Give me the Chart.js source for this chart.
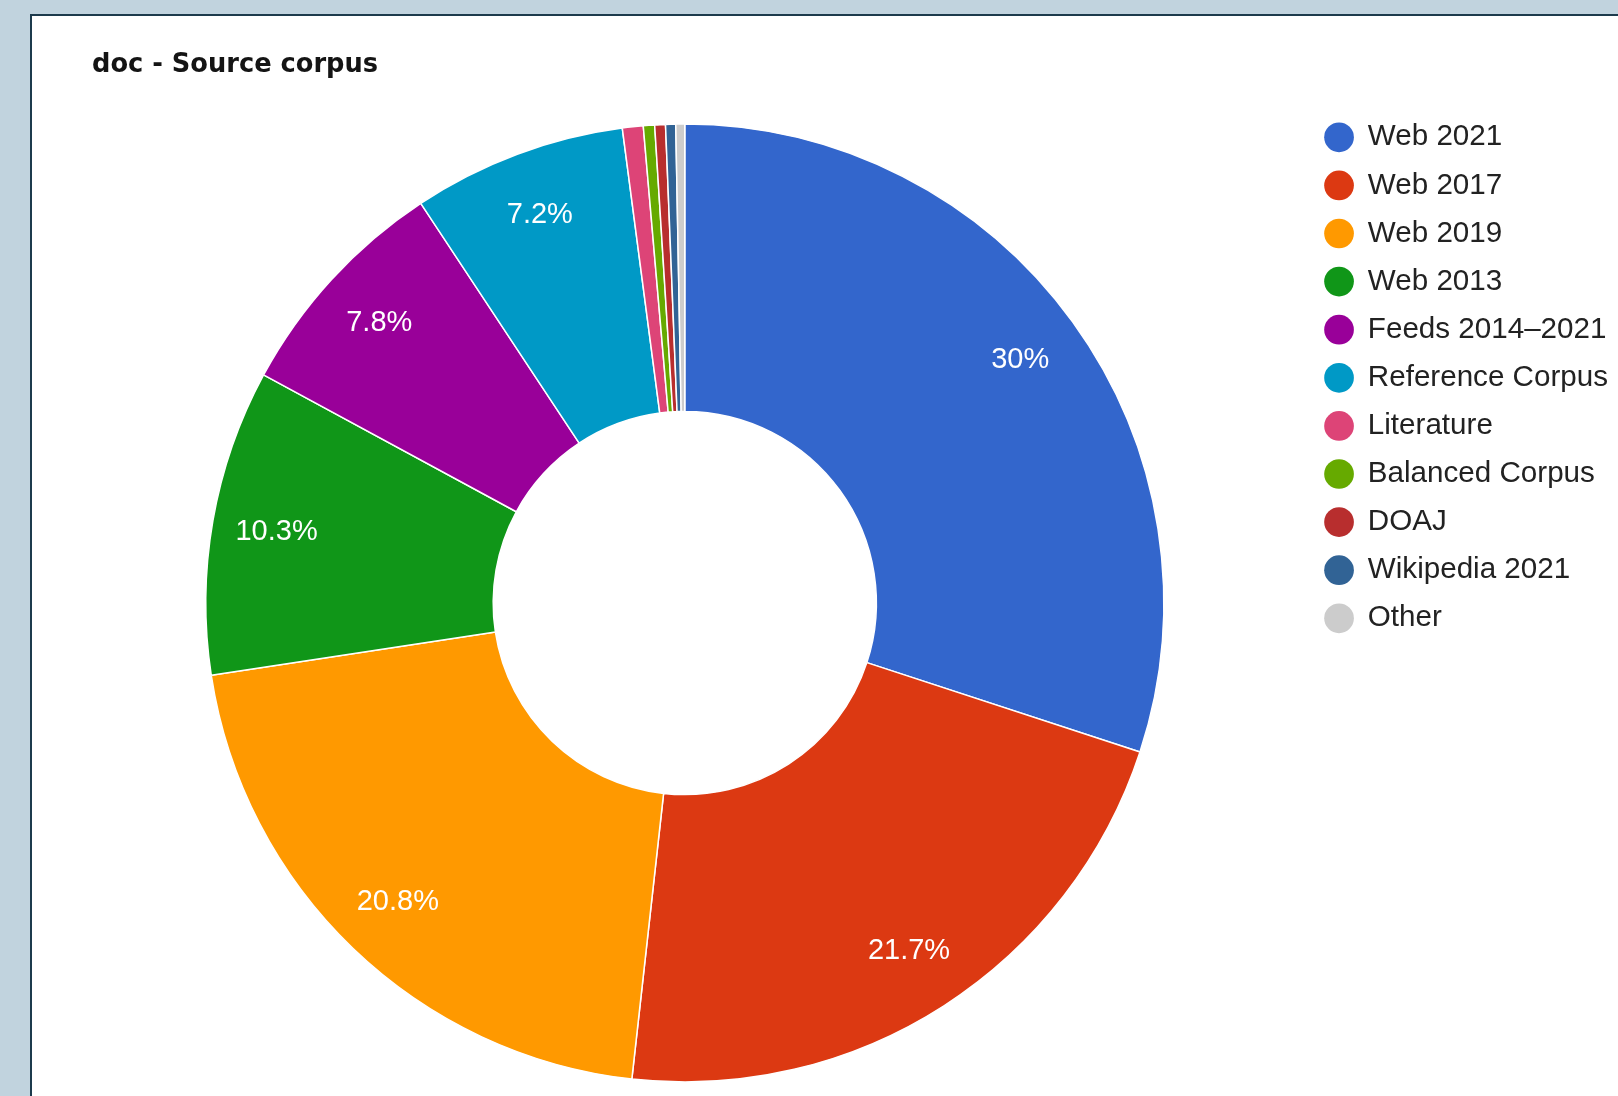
<!DOCTYPE html>
<html>
<head>
<meta charset="utf-8">
<title>doc - Source corpus</title>
<script src="https://cdn.jsdelivr.net/npm/chart.js@4"></script>
<style>
  html, body { margin: 0; padding: 0; width: 1618px; height: 1096px; overflow: hidden; background: #c1d3de; }
  #panel { position: absolute; left: 30px; top: 14px; width: 1620px; height: 1120px; background: #ffffff; border: 2px solid #1c3a4c; box-sizing: border-box; }
  #chart { position: absolute; left: 32px; top: 16px; }
</style>
</head>
<body>
<div id="panel"></div>
<canvas id="chart" width="1586" height="1100"></canvas>
<script>
// Document counts by source corpus, as percentage of all documents
const titleText = 'doc - Source corpus';
const categories = ['Web 2021', 'Web 2017', 'Web 2019', 'Web 2013', 'Feeds 2014\u20132021', 'Reference Corpus', 'Literature', 'Balanced Corpus', 'DOAJ', 'Wikipedia 2021', 'Other'];
const shares = [30, 21.7, 20.8, 10.3, 7.8, 7.2, 0.7, 0.38, 0.36, 0.34, 0.3];
const sliceColors = ['#3366cc', '#dc3912', '#ff9900', '#109618', '#990099', '#0099c6', '#dd4477', '#66aa00', '#b82e2e', '#316395', '#cccccc'];

const FONT = "'Liberation Sans', Arial, sans-serif";

// Title drawn in the top-left corner of the panel
const titlePlugin = {
  id: 'cornerTitle',
  afterDraw(chart) {
    const ctx = chart.ctx;
    ctx.save();
    ctx.font = "bold 25.7px 'DejaVu Sans', sans-serif";
    ctx.fillStyle = '#141414';
    ctx.textAlign = 'left';
    ctx.textBaseline = 'alphabetic';
    ctx.fillText(titleText, 60, 56);
    ctx.restore();
  }
};

// Percentage labels inside the larger slices
const sliceLabels = {
  id: 'sliceLabels',
  afterDatasetsDraw(chart) {
    const ctx = chart.ctx;
    const meta = chart.getDatasetMeta(0);
    const values = chart.data.datasets[0].data;
    const total = values.reduce((a, b) => a + b, 0);
    ctx.save();
    ctx.font = '29px ' + FONT;
    ctx.fillStyle = '#ffffff';
    ctx.textAlign = 'center';
    ctx.textBaseline = 'middle';
    meta.data.forEach((arc, i) => {
      const pct = values[i] / total * 100;
      if (pct < 3) return;
      const p = arc.getProps(['x', 'y', 'startAngle', 'endAngle', 'outerRadius'], true);
      const mid = (p.startAngle + p.endAngle) / 2;
      const r = p.outerRadius * 0.865;
      const txt = (Math.round(pct * 10) / 10) + '%';
      ctx.fillText(txt, p.x + Math.cos(mid) * r, p.y + Math.sin(mid) * r);
    });
    ctx.restore();
  }
};

new Chart(document.getElementById('chart'), {
  type: 'doughnut',
  data: {
    labels: categories,
    datasets: [{
      data: shares,
      backgroundColor: sliceColors,
      borderColor: '#ffffff',
      borderWidth: 1.5,
      hoverOffset: 0
    }]
  },
  options: {
    responsive: false,
    animation: false,
    cutout: '40%',
    radius: 479,
    layout: { padding: { left: 31, right: 0, top: 88, bottom: 14 } },
    plugins: {
      tooltip: { enabled: false },
      legend: {
        position: 'right',
        align: 'start',
        labels: {
          usePointStyle: true,
          pointStyle: 'circle',
          boxWidth: 28,
          boxHeight: 21,
          padding: 18.5,
          color: '#222222',
          font: { size: 29.6, family: FONT },
          generateLabels(chart) {
            const items = Chart.overrides.doughnut.plugins.legend.labels.generateLabels(chart);
            return items.map(it => Object.assign(it, { lineWidth: 0, strokeStyle: it.fillStyle }));
          }
        }
      }
    }
  },
  plugins: [sliceLabels, titlePlugin]
});
</script>
</body>
</html>
